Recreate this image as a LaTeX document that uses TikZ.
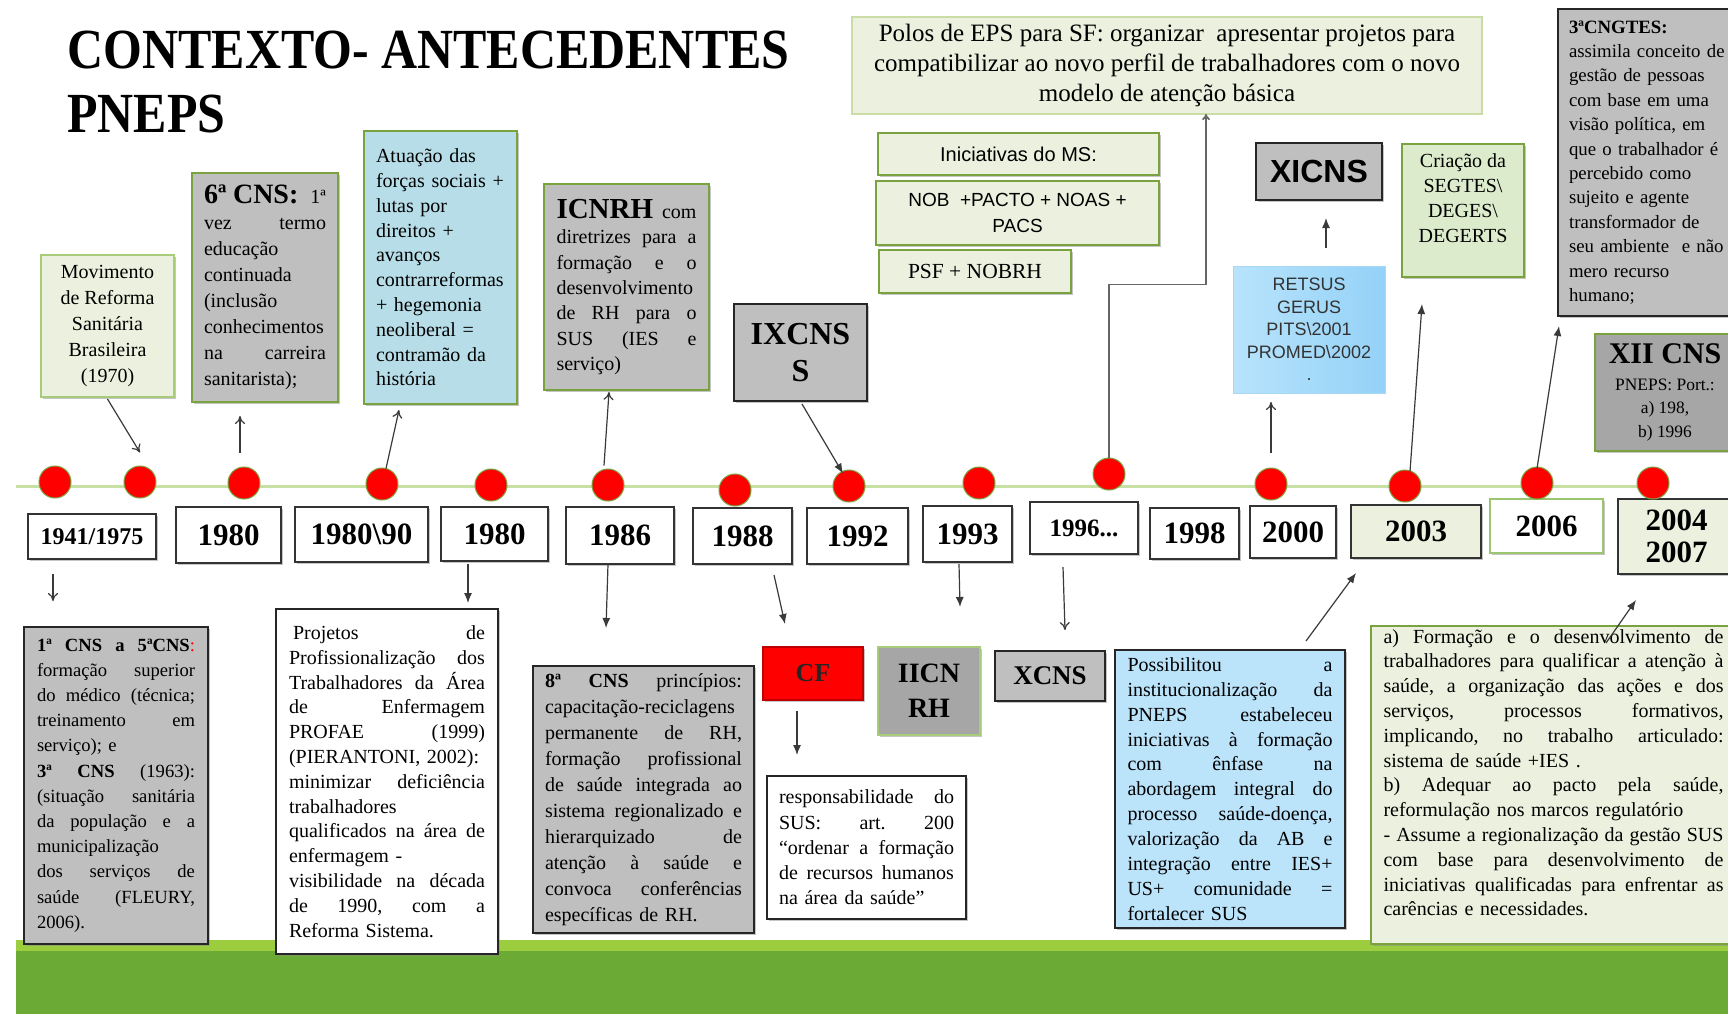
\documentclass[tikz,border=0pt]{standalone}
\usepackage{fontspec}
\usepackage{graphicx}
\setmainfont{Liberation Serif}
\newfontfamily\arialf{Liberation Sans}
\usetikzlibrary{calc,shadows,arrows.meta}
\definecolor{gfill}{HTML}{BFBFBF}
\definecolor{gfilld}{HTML}{A6A6A6}
\definecolor{lgfill}{HTML}{EBF1DE}
\definecolor{crfill}{HTML}{DCEBCB}
\definecolor{gborder}{HTML}{7AA33F}
\definecolor{lgborder}{HTML}{A9CC7A}
\definecolor{lgbordertwo}{HTML}{9BC56E}
\definecolor{polb}{HTML}{C9DDA5}
\definecolor{bfill}{HTML}{B7DEE8}
\definecolor{pfill}{HTML}{BBE3FA}
\definecolor{retl}{HTML}{B8E3FB}
\definecolor{retr}{HTML}{94D2F8}
\definecolor{retb}{HTML}{A6D8F5}
\definecolor{tline}{HTML}{C7E0A3}
\definecolor{bandd}{HTML}{6AAA35}
\definecolor{bandl}{HTML}{9BCD3F}
\definecolor{arrc}{HTML}{3A3A3A}
\newlength\jw
\let\JLend\relax
\def\JL#1{\leavevmode\hbox to\jw{\JLa#1 \JLend}}
\def\JLa#1 #2\JLend{#1\ifx\JLend#2\JLend\else\hfill\JLa#2\JLend\fi}
\newcommand\BF[2]{{\fontsize{#1}{#1}\selectfont\bfseries #2}}
\tikzset{
  boxbase/.style={anchor=north west, inner sep=0pt, outer sep=0pt},
  shad/.style={drop shadow={shadow xshift=1.2pt, shadow yshift=-1.2pt, fill=black!45}},
  graybox/.style={boxbase, shad, fill=gfill, draw=gborder, line width=0.9pt},
  darkbox/.style={boxbase, shad, fill=gfill, draw=black!85, line width=1.1pt},
  greenbox/.style={boxbase, shad, fill=lgfill, draw=lgborder, line width=0.9pt},
  yearbox/.style={boxbase, shad, fill=white, draw=black!80, line width=1pt, font=\fontsize{15.5}{16}\selectfont\bfseries},
  tdot/.style={circle, fill=red, draw=gborder, line width=0.5pt, minimum size=16pt, inner sep=0pt},
  arro/.style={draw=arrc, line width=0.6pt, -{To[length=4pt,width=5pt]}},
  arrf/.style={draw=arrc, line width=0.6pt, -{Latex[length=5pt,width=4pt]}},
  elbow/.style={draw=black!60, line width=0.9pt, -{To[length=3pt,width=4pt]}},
  jtext/.style={text width=#1, align=left, execute at begin node={\setlength\jw{#1}}},
}
\begin{document}
\begin{tikzpicture}[x=0.5pt,y=-0.5pt]
\useasboundingbox (0,0) rectangle (1728,1014);
\fill[white] (0,0) rectangle (1728,1014);
\fill[bandd] (16,940) rectangle (1728,1014);
\fill[bandl] (16,940) rectangle (1728,951);
\draw[tline, line width=1.5pt] (16,486) -- (1653,486);

% title
\node[anchor=base west, inner sep=0pt, font=\fontsize{27}{27}\selectfont\bfseries] (t1) at (67,68) {\scalebox{0.925}[1.05]{CONTEXTO- ANTECEDENTES}};
\node[anchor=base west, inner sep=0pt, font=\fontsize{27}{27}\selectfont\bfseries] (t2) at (67,132) {\scalebox{0.925}[1.05]{PNEPS}};

% upper boxes
\node[greenbox, minimum width=66.5pt, minimum height=71pt, align=center, font=\fontsize{10}{13}\selectfont] (mov) at (41,255) {Movimento\\de Reforma\\Sanitária\\Brasileira\\(1970)};

\node[graybox, minimum width=73pt, minimum height=114.5pt, jtext=61pt, font=\fontsize{10}{13}\selectfont] (cns6) at (192,173) {\JL{\BF{14}{6ª CNS:} 1ª}\\
\JL{vez termo}\\
educação\\
continuada\\
(inclusão\\
conhecimentos\\
\JL{na carreira}\\
sanitarista);};

\node[graybox, fill=bfill, minimum width=76.5pt, minimum height=136.5pt, text width=64.5pt, align=left, font=\fontsize{10}{12.4}\selectfont] (atu) at (364,131) {Atuação das\\forças sociais +\\lutas por\\direitos +\\avanços\\contrarreformas\\+ hegemonia\\neoliberal =\\contramão da\\história};

\node[graybox, minimum width=82.5pt, minimum height=103pt, jtext=70pt, font=\fontsize{10}{12.65}\selectfont] (icnrh) at (544,184) {\JL{\BF{14.5}{ICNRH} com}\\
\JL{diretrizes para a}\\
\JL{formação e o}\\
desenvolvimento\\
\JL{de RH para o}\\
\JL{SUS (IES e}\\
serviço)};

\node[darkbox, minimum width=66.5pt, minimum height=48.5pt, align=center, font=\fontsize{16}{18.5}\selectfont\bfseries] (ixcns) at (734,304) {IXCNS\\S};

\node[greenbox, draw=gborder, minimum width=140.5pt, minimum height=21pt, font=\arialf\fontsize{10}{12}\selectfont] (ini) at (878,133) {Iniciativas do MS:};
\node[greenbox, draw=gborder, minimum width=141.5pt, minimum height=32pt, align=center, font=\arialf\fontsize{9.5}{13}\selectfont] (nob) at (876,181) {NOB\ \ +PACTO + NOAS +\\PACS};
\node[greenbox, draw=gborder, minimum width=96pt, minimum height=21.5pt, font=\fontsize{10.75}{12}\selectfont] (psf) at (879,250) {PSF + NOBRH};

\node[boxbase, fill=lgfill, draw=polb, line width=0.9pt, minimum width=315pt, minimum height=48.5pt, align=center, font=\fontsize{12.5}{15}\selectfont] (polos) at (852,17) {Polos de EPS para SF: organizar\ \ apresentar projetos para\\compatibilizar ao novo perfil de trabalhadores com o novo\\modelo de atenção básica};

\node[darkbox, minimum width=63pt, minimum height=28.5pt, font=\arialf\fontsize{16}{18}\selectfont\bfseries] (xicns) at (1256,143) {XICNS};

\node[boxbase, left color=retl, right color=retr, draw=retb, line width=0.5pt, minimum width=76pt, minimum height=63.5pt, align=center, text=black!80, font=\arialf\fontsize{9}{11.2}\selectfont] (retsus) at (1233,266) {RETSUS\\GERUS\\PITS\textbackslash 2001\\PROMED\textbackslash 2002\\.};

\node[graybox, fill=crfill, minimum width=61pt, minimum height=66.5pt, align=center, font=\fontsize{10}{12.5}\selectfont] (criacao) at (1402,144) {Criação da\\SEGTES\textbackslash\\DEGES\textbackslash\\DEGERTS\\\mbox{}};

\node[darkbox, minimum width=91pt, minimum height=153.5pt, text width=80pt, align=left, font=\fontsize{9.4}{12.2}\selectfont] (cngtes) at (1558,9) {\textbf{3ªCNGTES:}\\assimila conceito de\\gestão de pessoas\\com base em uma\\visão política, em\\que o trabalhador é\\percebido como\\sujeito e agente\\transformador de\\seu ambiente\ \ e não\\mero recurso\\humano;};

\node[graybox, fill=gfilld, minimum width=70pt, minimum height=58.5pt, align=center, font=\fontsize{8.7}{11.8}\selectfont] (xii) at (1595,334) {{\fontsize{15}{15}\selectfont\bfseries XII CNS}\\[1.5pt]PNEPS: Port.:\\a) 198,\\b) 1996};

% year boxes
\node[yearbox, minimum width=64pt, minimum height=22.5pt, font=\fontsize{12}{13}\selectfont\bfseries] (y41) at (28,514) {1941/1975};
\node[yearbox, minimum width=52.5pt, minimum height=28pt] (y80a) at (176,507) {1980};
\node[yearbox, minimum width=66.5pt, minimum height=27.5pt] (y80b) at (295,507) {1980\textbackslash 90};
\node[yearbox, minimum width=53.5pt, minimum height=27pt] (y80c) at (441,507) {1980};
\node[yearbox, minimum width=54pt, minimum height=28.5pt] (y86) at (566,507) {1986};
\node[yearbox, minimum width=49.5pt, minimum height=28pt] (y88) at (693,508) {1988};
\node[yearbox, minimum width=50.5pt, minimum height=28pt] (y92) at (807,508) {1992};
\node[yearbox, minimum width=44.5pt, minimum height=28pt] (y93) at (923,506) {1993};
\node[yearbox, minimum width=54pt, minimum height=26pt, font=\fontsize{12.5}{13}\selectfont\bfseries] (y96) at (1030,502) {1996...};
\node[yearbox, minimum width=44.5pt, minimum height=25.5pt] (y98) at (1150,508) {1998};
\node[yearbox, minimum width=43pt, minimum height=26pt] (y00) at (1250,506) {2000};
\node[yearbox, fill=lgfill, minimum width=65pt, minimum height=26.5pt] (y03) at (1351,505) {2003};
\node[yearbox, draw=lgbordertwo, minimum width=56.5pt, minimum height=27pt] (y06) at (1490,499) {2006};
\node[yearbox, fill=lgfill, minimum width=58.5pt, minimum height=37.5pt, align=center, font=\fontsize{15.5}{16}\selectfont\bfseries] (y04) at (1618,499) {2004\\2007};

% dots
\node[tdot] (d1) at (55,482) {};
\node[tdot] (d2) at (140,482) {};
\node[tdot] (d3) at (244,483) {};
\node[tdot] (d4) at (382,484) {};
\node[tdot] (d5) at (491,485) {};
\node[tdot] (d6) at (608,485) {};
\node[tdot] (d7) at (735,490) {};
\node[tdot] (d8) at (849,486) {};
\node[tdot] (d9) at (979,483) {};
\node[tdot] (d10) at (1109,474) {};
\node[tdot] (d11) at (1271,484) {};
\node[tdot] (d12) at (1405,486) {};
\node[tdot] (d13) at (1537,483) {};
\node[tdot] (d14) at (1653,483) {};

% lower boxes
\node[darkbox, minimum width=92pt, minimum height=158.5pt, jtext=79pt, font=\fontsize{9.3}{12.6}\selectfont] (cns1) at (24,627) {\JL{\textbf{1ª} \textbf{CNS} \textbf{a} \textbf{5ªCNS}\textcolor{red}{:}}\\
\JL{formação superior}\\
\JL{do médico (técnica;}\\
\JL{treinamento em}\\
serviço); e\\
\JL{\textbf{3ª} \textbf{CNS} (1963):}\\
\JL{(situação sanitária}\\
\JL{da população e a}\\
municipalização\\
\JL{dos serviços de}\\
\JL{saúde (FLEURY,}\\
2006).};

\node[darkbox, fill=white, minimum width=111pt, minimum height=172.5pt, jtext=98pt, font=\fontsize{10}{12.4}\selectfont] (proj) at (276,609) {\JL{\hspace{2pt}Projetos de}\\
\JL{Profissionalização dos}\\
\JL{Trabalhadores da Área}\\
\JL{de Enfermagem}\\
\JL{PROFAE (1999)}\\
(PIERANTONI, 2002):\\
\JL{minimizar deficiência}\\
trabalhadores\\
\JL{qualificados na área de}\\
enfermagem -\\
\JL{visibilidade na década}\\
\JL{de 1990, com a}\\
Reforma Sistema.};

\node[darkbox, minimum width=110.5pt, minimum height=133.5pt, jtext=98.5pt, font=\fontsize{10}{13}\selectfont] (cns8) at (533,666) {\JL{\textbf{8ª} \textbf{CNS} princípios:}\\
capacitação-reciclagens\\
\JL{permanente de RH,}\\
\JL{formação profissional}\\
\JL{de saúde integrada ao}\\
\JL{sistema regionalizado e}\\
\JL{hierarquizado de}\\
\JL{atenção à saúde e}\\
\JL{convoca conferências}\\
específicas de RH.};

\node[boxbase, shad, fill=red, draw=red!75!black, line width=0.6pt, minimum width=50pt, minimum height=26.5pt, text=black!85, font=\fontsize{13}{13}\selectfont\bfseries] (cf) at (763,647) {CF};

\node[darkbox, fill=white, minimum width=99.5pt, minimum height=71.5pt, jtext=87.5pt, font=\fontsize{10}{12.65}\selectfont] (resp) at (767,776) {\JL{responsabilidade do}\\
\JL{SUS: art. 200}\\
\JL{“ordenar a formação}\\
\JL{de recursos humanos}\\
na área da saúde”};

\node[graybox, fill=gfilld, draw=lgborder, minimum width=51pt, minimum height=44pt, align=center, font=\fontsize{14}{17.5}\selectfont\bfseries] (iicn) at (878,647) {IICN\\RH};

\node[darkbox, minimum width=55pt, minimum height=25pt, font=\fontsize{13.5}{14}\selectfont\bfseries] (xcns) at (995,651) {XCNS};

\node[darkbox, fill=pfill, minimum width=115pt, minimum height=139pt, jtext=102.5pt, font=\fontsize{10}{12.45}\selectfont] (poss) at (1115,650) {\JL{Possibilitou a}\\
\JL{institucionalização da}\\
\JL{PNEPS estabeleceu}\\
\JL{iniciativas à formação}\\
\JL{com ênfase na}\\
\JL{abordagem integral do}\\
\JL{processo saúde-doença,}\\
\JL{valorização da AB e}\\
\JL{integração entre IES+}\\
\JL{US+ comunidade =}\\
fortalecer SUS};

\node[graybox, fill=lgfill, draw=gborder, minimum width=182.5pt, minimum height=159pt, jtext=170pt, font=\fontsize{10}{12.4}\selectfont] (aform) at (1371,626) {\JL{a) Formação e o desenvolvimento de}\\
\JL{trabalhadores para qualificar a atenção à}\\
\JL{saúde, a organização das ações e dos}\\
\JL{serviços, processos formativos,}\\
\JL{implicando, no trabalho articulado:}\\
sistema de saúde +IES .\\
\JL{b) Adequar ao pacto pela saúde,}\\
reformulação nos marcos regulatório\\
\JL{- Assume a regionalização da gestão SUS}\\
\JL{com base para desenvolvimento de}\\
\JL{iniciativas qualificadas para enfrentar as}\\
carências e necessidades.\\
\mbox{}};

% connectors
\draw[arro] ($(mov.south)+(0,2)$) -- ($(d2.north)+(0,-13)$);
\draw[arro] ($(d3.north)+(-4,-14)$) -- ($(cns6.south)+(-25,14)$);
\draw[arro] ($(d4.north)+(4,1)$) -- ($(atu.south)+(-41.5,6)$);
\draw[arro] ($(d6.north)+(-4,-3)$) -- ($(icnrh.south)+(-17.5,2)$);
\draw[arrf] ($(ixcns.south)+(1.5,3)$) -- ($(d8.north)+(-6,4)$);
\draw[elbow] (d10.north) -- ++(0,-173) -| ($(polos.south)+(39,0)$);
\draw[arrf] ($(retsus.north)+(17,-18)$) -- ($(xicns.south)+(7,18)$);
\draw[arro] ($(d11.north)+(0,-15)$) -- ($(retsus.south)+(-38,9)$);
\draw[arrf] ($(d12.north)+(5,2)$) -- ($(criacao.south)+(-41,27)$);
\draw[arrf] ($(d13.north)+(0,2)$) -- ($(cngtes.south west)+(1,10)$);
\draw[arro] ($(y41.south)+(-39,15)$) -- ($(cns1.north)+(-63,-26)$);
\draw[arrf] ($(y80c.south)+(-26.5,3)$) -- ($(proj.north)+(81,-6)$);
\draw[arrf] ($(y86.south)+(-12,0)$) -- ($(cns8.north)+(-37.5,-38)$);
\draw[arrf] ($(y88.south)+(31.5,11)$) -- ($(cf.north)+(-28,-23)$);
\draw[arrf] ($(cf.south)+(-16,11)$) -- ($(resp.north)+(-69.5,-21)$);
\draw[arrf] ($(y93.south)+(-8.5,2)$) -- ($(iicn.north)+(31,-40)$);
\draw[arro] ($(y96.south)+(-21,13)$) -- ($(xcns.north)+(15,-21)$);
\draw[arrf] ($(poss.north)+(76,-9)$) -- ($(y03.south)+(-60,15)$);
\draw[arrf] ($(aform.north)+(52.5,17)$) -- ($(y04.south)+(-40.5,26)$);
\end{tikzpicture}
\end{document}
